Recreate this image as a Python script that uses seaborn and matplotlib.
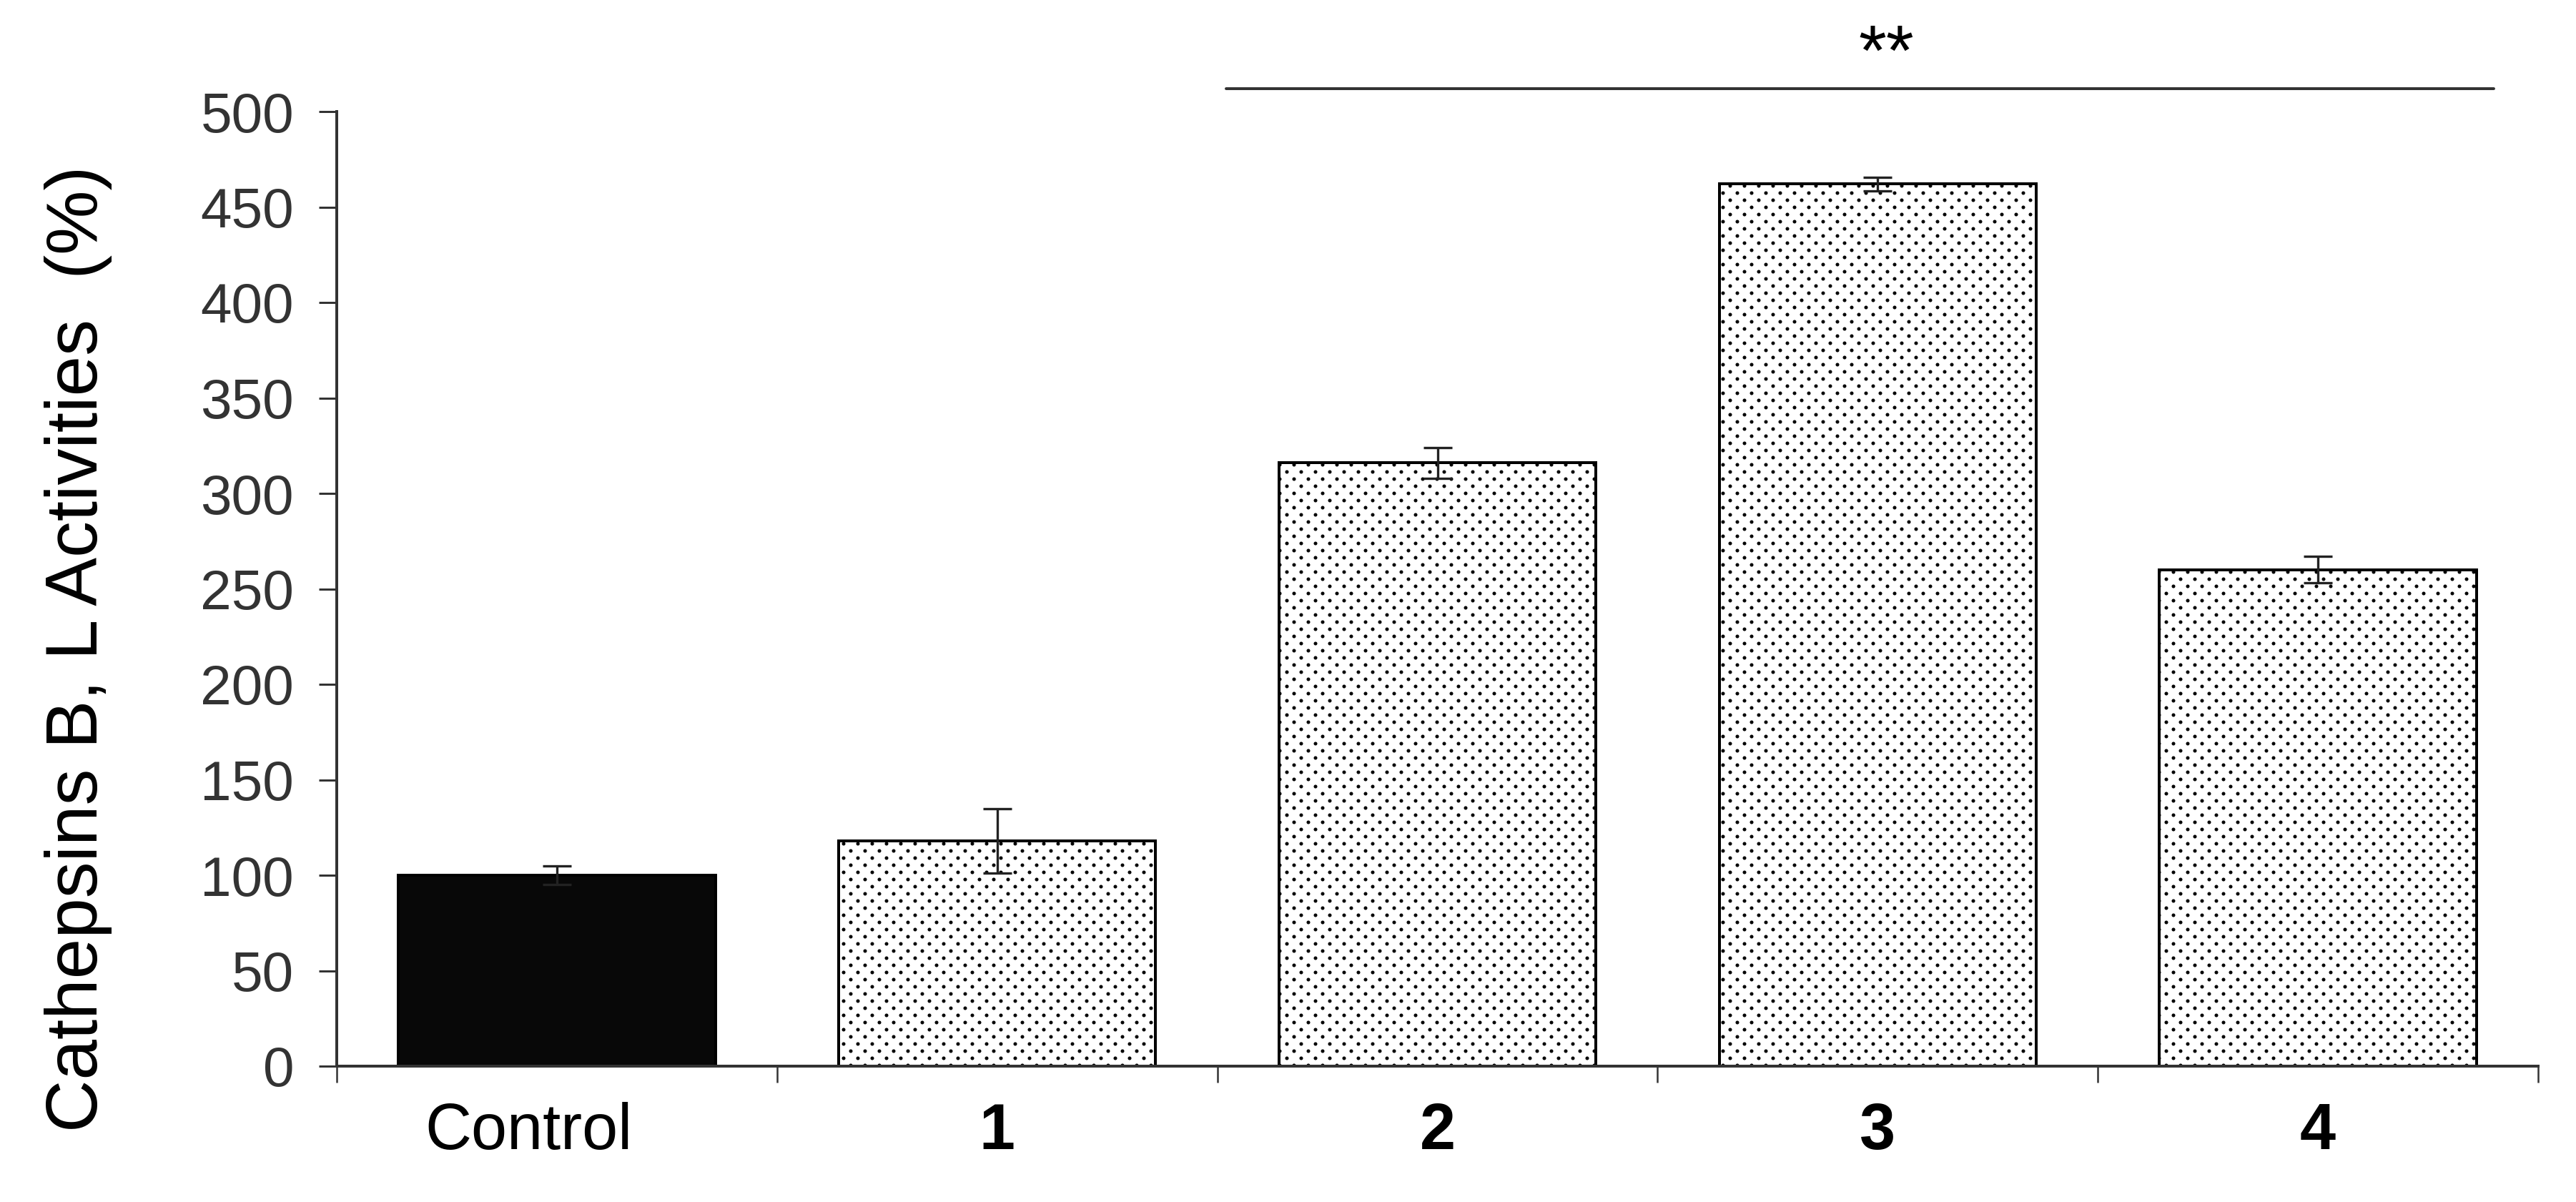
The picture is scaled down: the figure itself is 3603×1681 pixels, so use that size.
import matplotlib
matplotlib.use("Agg")
import matplotlib.pyplot as plt
import matplotlib.transforms as mtransforms
import matplotlib.hatch as mhatch
import seaborn as sns
import numpy as np
import pandas as pd
from matplotlib.ticker import FixedLocator

# ---- data ----
categories = ["Control", "1", "2", "3", "4"]
values = [100, 118, 316, 462, 260]
errors = [5, 17, 8, 3.5, 7]
bar_colors = ["#080808", "white", "white", "white", "white"]
y_ticks = [0, 50, 100, 150, 200, 250, 300, 350, 400, 450, 500]
y_label = "Cathepsins B, L Activities  (%)"
sig_text = "**"
sig_span = [1.52, 4.40]
sig_level = 512


# staggered fine-dot texture (like the stipple fill of the original figure)
class StaggeredDots(mhatch.Circles):
    size = 0.1
    filled = True

    def __init__(self, hatch, density):
        n = hatch.count('.')
        self.ncol = 6 * n
        self.nrow = 12 * n
        self.num_rows = self.ncol
        super().__init__(hatch, density)
        if n == 0:
            self.num_shapes = 0
            self.num_vertices = 0
        else:
            self.num_shapes = ((self.nrow // 2 + 1) * (self.ncol + 1) +
                               (self.nrow // 2) * self.ncol)
            self.num_vertices = self.num_shapes * len(self.shape_vertices)

    def set_vertices_and_codes(self, vertices, codes):
        dx = 1.0 / self.ncol
        dy = 1.0 / self.nrow
        shape_vertices = self.shape_vertices * dx * self.size
        nv = len(shape_vertices)
        cursor = 0
        for row in range(self.nrow + 1):
            if row % 2 == 0:
                cols = np.linspace(0, 1, self.ncol + 1)
            else:
                cols = np.linspace(dx / 2, 1 - dx / 2, self.ncol)
            for x in cols:
                vertices[cursor:cursor + nv] = shape_vertices + (x, row * dy)
                codes[cursor:cursor + nv] = self.shape_codes
                cursor += nv


use_custom = True
try:
    mhatch._hatch_types = [StaggeredDots if t is mhatch.SmallFilledCircles else t
                           for t in mhatch._hatch_types]
    mhatch.get_path(".", 6)
except Exception:
    use_custom = False

sns.set_style("ticks")
plt.rcParams["font.family"] = ["Liberation Sans", "DejaVu Sans"]
plt.rcParams["hatch.linewidth"] = 0.6

DPI = 120
fig = plt.figure(figsize=(3603 / DPI, 1681 / DPI), dpi=DPI)
ax = fig.add_axes([471 / 3603, 1 - 1491 / 1681, 3079 / 3603, 1335 / 1681])

df = pd.DataFrame({"group": categories, "value": values})
sns.barplot(data=df, x="group", y="value", hue="group", palette=bar_colors,
            legend=False, width=0.72, edgecolor="black", linewidth=2.4,
            errorbar=None, ax=ax, saturation=1)

for i, p in enumerate(ax.patches):
    if i > 0:
        p.set_hatch("." if use_custom else "..")
        p.set_facecolor("white")

ax.errorbar(np.arange(len(categories)), values, yerr=errors, fmt="none",
            ecolor="#222222", elinewidth=2.0, capsize=12, capthick=2.0, zorder=5)

ax.set_xlim(-0.5, len(categories) - 0.5)
ax.set_ylim(0, 500)
ax.set_yticks(y_ticks)
ax.set_yticklabels([str(t) for t in y_ticks])

for s in ["top", "right"]:
    ax.spines[s].set_visible(False)
for s in ["left", "bottom"]:
    ax.spines[s].set_linewidth(2.4)
    ax.spines[s].set_color("#333333")

ax.tick_params(axis="y", which="major", length=15, width=1.8, color="#333333",
               labelsize=47, labelcolor="#333333", pad=21, direction="out")
ax.xaxis.set_minor_locator(FixedLocator(np.arange(-0.5, len(categories), 1.0)))
ax.tick_params(axis="x", which="minor", length=14, width=1.5, color="#333333",
               direction="out")
ax.tick_params(axis="x", which="major", length=0, labelsize=54, pad=30,
               labelcolor="black")
for i, lab in enumerate(ax.get_xticklabels()):
    if i > 0:
        lab.set_fontweight("bold")
    else:
        lab.set_transform(lab.get_transform() +
                          mtransforms.ScaledTranslation(-0.33, 0, fig.dpi_scale_trans))

ax.set_xlabel("")
ax.set_ylabel(y_label, fontsize=61, color="black")
ax.yaxis.set_label_coords(-0.102, 0.437)

# significance line
ax.plot(sig_span, [sig_level, sig_level], color="#333333", lw=2.4, clip_on=False)
ax.text(np.mean(sig_span) + 0.06, sig_level + 7, sig_text, ha="center",
        va="baseline", fontsize=60, color="black", clip_on=False)

fig.savefig("out.png", dpi=DPI, facecolor="white")
